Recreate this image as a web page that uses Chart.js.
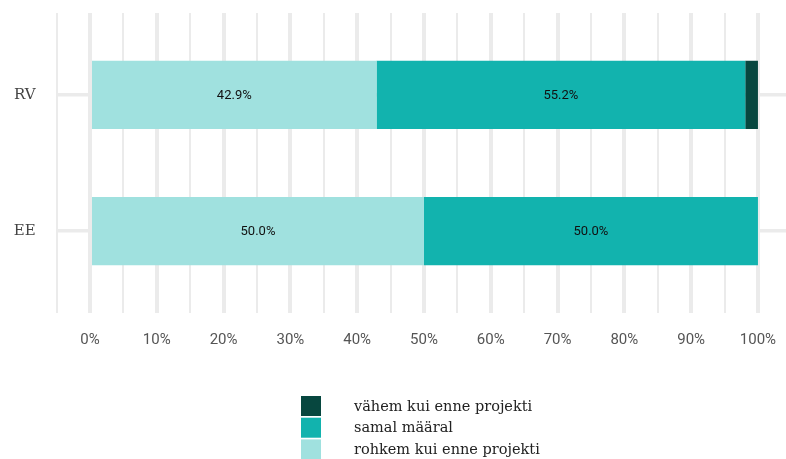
<!DOCTYPE html>
<html>
<head>
<meta charset="utf-8">
<script src="https://cdn.jsdelivr.net/npm/chart.js@4"></script>
<style>
  html, body { margin: 0; padding: 0; background: #fff; }
  #wrap { width: 786px; height: 459px; }
</style>
</head>
<body>
<div id="wrap"><canvas id="myChart" width="786" height="459"></canvas></div>
<script>
const categories = ['RV', 'EE'];
const categoryPos = [1, 2];
const seriesNames = ['rohkem kui enne projekti', 'samal määral', 'vähem kui enne projekti'];
const seriesColors = ['#a0e1df', '#12b3ae', '#07473f'];
const rohkem = [42.9, 50.0];
const samal = [55.2, 50.0];
const vahem = [1.9, 0.0];
const gridSteps = [-5, 0, 5, 10, 15, 20, 25, 30, 35, 40, 45, 50, 55, 60, 65, 70, 75, 80, 85, 90, 95, 100];
const tickLabels = [0, 10, 20, 30, 40, 50, 60, 70, 80, 90, 100];

const sansFont = "Roboto, 'Noto Sans', sans-serif";
const serifFont = "'DejaVu Serif', serif";

const toPoints = (values) => values.map((v, i) => ({ x: v, y: categoryPos[i] }));

const barLabels = {
  id: 'barLabels',
  afterDatasetsDraw(chart) {
    const c = chart.ctx;
    c.save();
    c.font = '13px ' + sansFont;
    c.fillStyle = '#111';
    c.textAlign = 'center';
    c.textBaseline = 'middle';
    chart.data.datasets.forEach((ds, di) => {
      chart.getDatasetMeta(di).data.forEach((el, i) => {
        const v = ds.data[i].x;
        if (v < 5) return;
        c.fillText(v.toFixed(1) + '%', (el.x + el.base) / 2, el.y + 1);
      });
    });
    c.restore();
  }
};

const sideLegend = {
  id: 'sideLegend',
  afterDraw(chart) {
    const c = chart.ctx;
    c.save();
    c.font = '14.5px ' + serifFont;
    c.textBaseline = 'middle';
    c.textAlign = 'left';
    const items = chart.data.datasets.slice().reverse();
    items.forEach((ds, i) => {
      const y = 396 + i * 21.7;
      c.fillStyle = ds.backgroundColor;
      c.fillRect(301, y, 20, 20);
      c.fillStyle = '#222';
      c.fillText(ds.label, 354, y + 11);
    });
    c.restore();
  }
};

const config = {
  type: 'bar',
  data: {
    datasets: [
      { label: seriesNames[0], data: toPoints(rohkem), backgroundColor: seriesColors[0] },
      { label: seriesNames[1], data: toPoints(samal), backgroundColor: seriesColors[1] },
      { label: seriesNames[2], data: toPoints(vahem), backgroundColor: seriesColors[2] },
    ],
  },
  options: {
    indexAxis: 'y',
    responsive: false,
    animation: false,
    categoryPercentage: 0.5,
    barPercentage: 1,
    layout: { padding: { top: 13, right: 0, bottom: 110, left: 0 } },
    plugins: {
      legend: { display: false },
      tooltip: { enabled: false },
    },
    scales: {
      x: {
        type: 'linear',
        stacked: true,
        min: -5,
        max: 104.2,
        offset: false,
        afterBuildTicks(scale) {
          scale.ticks = gridSteps.map((v) => ({ value: v }));
        },
        afterFit(scale) {
          scale.height = 36;
          scale.paddingLeft = 0;
          scale.paddingRight = 0;
        },
        ticks: {
          autoSkip: false,
          maxRotation: 0,
          padding: 18,
          color: '#555',
          font: { family: sansFont, size: 15 },
          callback: (v) => (tickLabels.includes(v) ? v + '%' : ''),
        },
        grid: {
          color: '#ebebeb',
          offset: false,
          lineWidth: (ctx) => (ctx.tick && tickLabels.includes(ctx.tick.value) ? 4 : 2),
          drawTicks: false,
        },
        border: { display: false },
      },
      y: {
        type: 'linear',
        stacked: true,
        reverse: true,
        min: 0.4,
        max: 2.6,
        offset: false,
        afterBuildTicks(scale) {
          scale.ticks = categoryPos.map((v) => ({ value: v }));
        },
        afterFit(scale) {
          scale.width = 56.6;
          scale.paddingTop = 0;
          scale.paddingBottom = 0;
        },
        ticks: {
          padding: 21,
          color: '#444',
          font: { family: serifFont, size: 15 },
          callback: (v) => categories[categoryPos.indexOf(v)],
        },
        grid: { color: '#ebebeb', offset: false, lineWidth: 3.5, drawTicks: false },
        border: { display: false },
      },
    },
  },
  plugins: [barLabels, sideLegend],
};

new Chart(document.getElementById('myChart'), config);
</script>
</body>
</html>
